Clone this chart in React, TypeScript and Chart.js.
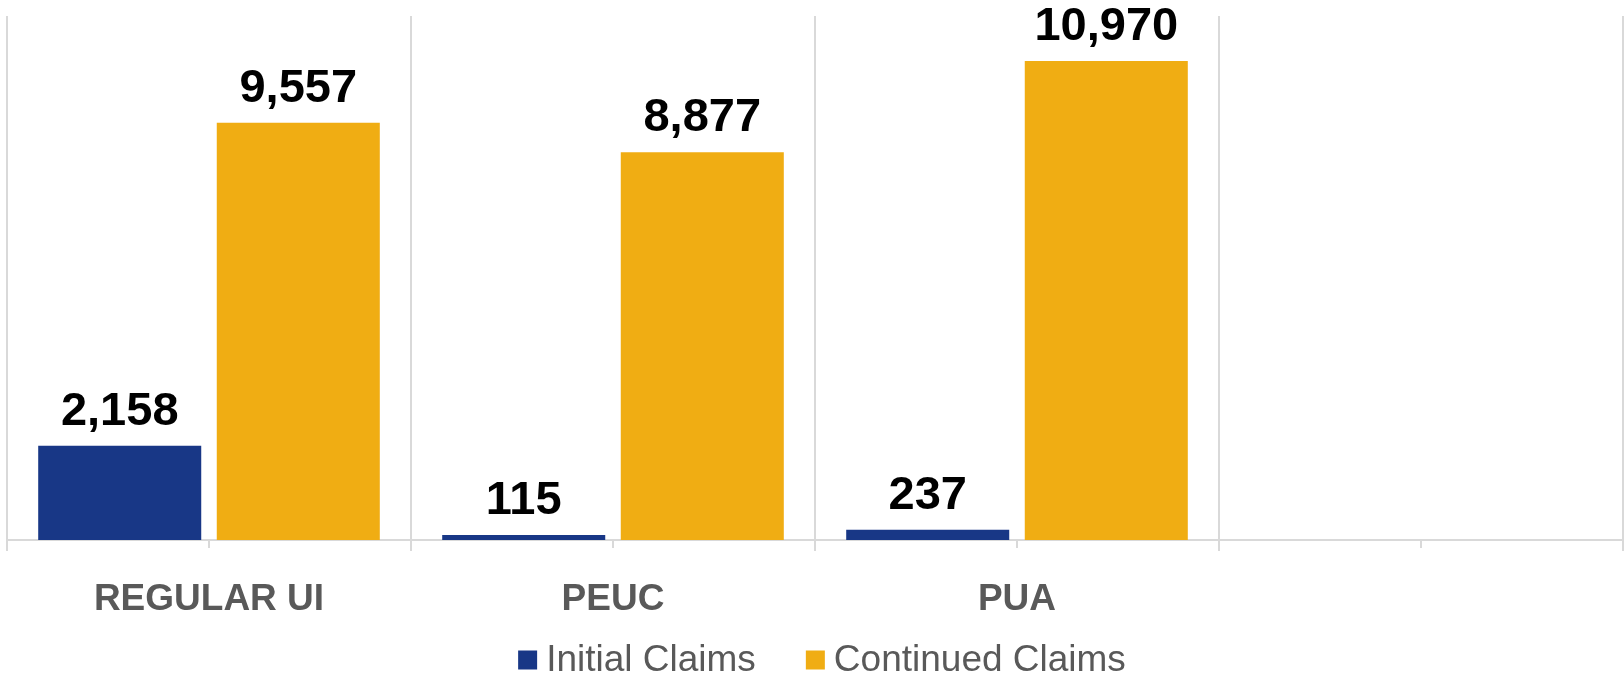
import React, { useEffect, useRef } from "react";
import { Chart, registerables } from "chart.js";

Chart.register(...registerables);

const categories = ["REGULAR UI", "PEUC", "PUA", ""];
const initialClaims = [2158, 115, 237, null];
const continuedClaims = [9557, 8877, 10970, null];
const seriesNames = ["Initial Claims", "Continued Claims"];
const seriesColors = ["#183786", "#F0AD13"];

const FONT = "'Liberation Sans', Arial, sans-serif";

const valueLabels = {
  id: "valueLabels",
  afterDatasetsDraw(chart: any) {
    const ctx = chart.ctx;
    ctx.save();
    ctx.font = `bold 47px ${FONT}`;
    ctx.fillStyle = "#000000";
    ctx.textAlign = "center";
    ctx.textBaseline = "alphabetic";
    chart.data.datasets.forEach((ds: any, di: number) => {
      const meta = chart.getDatasetMeta(di);
      meta.data.forEach((bar: any, i: number) => {
        const v = ds.data[i];
        if (v == null) return;
        ctx.fillText(v.toLocaleString("en-US"), bar.x, bar.y - 21);
      });
    });
    ctx.restore();
  },
};

const centerTicks = {
  id: "centerTicks",
  afterDraw(chart: any) {
    const ctx = chart.ctx;
    const x = chart.scales.x;
    const bottom = chart.chartArea.bottom;
    ctx.save();
    ctx.strokeStyle = "#d9d9d9";
    ctx.lineWidth = 2;
    for (let i = 0; i < categories.length; i++) {
      const px = Math.round(x.getPixelForValue(i));
      ctx.beginPath();
      ctx.moveTo(px, bottom);
      ctx.lineTo(px, bottom + 8);
      ctx.stroke();
    }
    ctx.restore();
  },
};

const customLegend = {
  id: "customLegend",
  afterDraw(chart: any) {
    const ctx = chart.ctx;
    ctx.save();
    ctx.font = `37px ${FONT}`;
    const box = 19;
    const gapText = 9;
    const gapItem = 50;
    const widths = seriesNames.map((n) => box + gapText + ctx.measureText(n).width);
    const total = widths.reduce((a, b) => a + b, 0) + gapItem * (seriesNames.length - 1);
    let x = (chart.width - total) / 2 + 10;
    const cy = 660;
    ctx.textBaseline = "middle";
    ctx.textAlign = "left";
    seriesNames.forEach((n, i) => {
      ctx.fillStyle = seriesColors[i];
      ctx.fillRect(x, cy - box / 2, box, box);
      ctx.fillStyle = "#595959";
      ctx.fillText(n, x + box + gapText, cy + 1);
      x += widths[i] + gapItem;
    });
    ctx.restore();
  },
};

export default function App() {
  const ref = useRef<HTMLCanvasElement>(null);
  useEffect(() => {
    const chart = new Chart(ref.current as HTMLCanvasElement, {
      type: "bar",
      data: {
        labels: categories,
        datasets: [
          {
            label: seriesNames[0],
            data: initialClaims,
            backgroundColor: seriesColors[0],
            categoryPercentage: 0.884,
            barPercentage: 0.913,
          },
          {
            label: seriesNames[1],
            data: continuedClaims,
            backgroundColor: seriesColors[1],
            categoryPercentage: 0.884,
            barPercentage: 0.913,
          },
        ],
      },
      options: {
        responsive: false,
        animation: false,
        layout: { padding: { top: 16, left: 7, right: 1, bottom: 50 } },
        plugins: {
          legend: { display: false },
          tooltip: { enabled: false },
        },
        scales: {
          x: {
            grid: {
              offset: true,
              color: "#d9d9d9",
              lineWidth: 2,
              tickLength: 11,
              drawTicks: true,
            },
            border: { color: "#d9d9d9", width: 2 },
            ticks: {
              color: "#595959",
              font: { family: FONT, size: 37, weight: "bold", lineHeight: 1.2 },
              padding: 27,
              maxRotation: 0,
              autoSkip: false,
            },
            afterFit: (scale: any) => {
              scale.height = 87;
            },
          },
          y: {
            display: false,
            min: 0,
            max: 12000,
          },
        },
      },
      plugins: [valueLabels, centerTicks, customLegend],
    });
    return () => chart.destroy();
  }, []);
  return (
    <div style={{ position: "absolute", left: 0, top: 0, width: 1624, height: 677, background: "#fff" }}>
      <canvas ref={ref} width={1624} height={677} />
    </div>
  );
}
